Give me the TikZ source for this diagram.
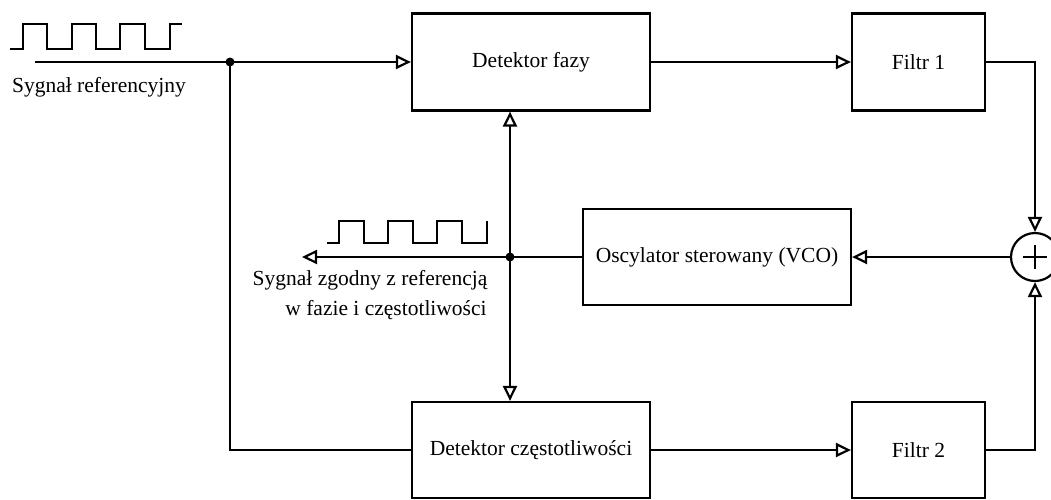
\documentclass[tikz,border=0pt]{standalone}
\usepackage{fontspec}
\setmainfont{Liberation Serif}
\usetikzlibrary{arrows.meta}
\begin{document}
\begin{tikzpicture}[x=1pt,y=-1pt, line width=2.2pt,
  blk/.style={draw, line width=2.2pt, inner sep=0pt, font=\fontsize{21.5}{25}\selectfont},
  lbl/.style={inner sep=0pt, font=\fontsize{21.5}{25}\selectfont},
  tip/.style={-{Triangle[open,length=15pt,width=14pt]}},
  jdot/.style={circle, fill, inner sep=0pt, minimum size=9pt},
  wave/.style={line width=2.2pt}]
\useasboundingbox (0,0) rectangle (1051,499);
% blocks
\node[blk, minimum width=238pt, minimum height=97pt] (df) at (531,62) {Detektor fazy};
\node[blk, minimum width=133pt, minimum height=97pt] (f1) at (918.5,62) {Filtr 1};
\node[blk, minimum width=268pt, minimum height=96pt] (vco) at (717,257) {Oscylator sterowany (VCO)};
\node[blk, minimum width=238pt, minimum height=96pt] (dc) at (531,450) {Detektor częstotliwości};
\node[blk, minimum width=133pt, minimum height=96pt] (f2) at (918.5,450) {Filtr 2};
\node[draw, circle, line width=2.2pt, minimum size=48pt, inner sep=0pt] (sum) at (1035,257) {};
\draw (sum.center) ++(-12,0) -- ++(24,0);
\draw (sum.center) ++(0,-12) -- ++(0,24);
% junctions
\coordinate (j1) at (230,62);
\coordinate (j2) at (510,257);
\coordinate (refstart) at (35,62);
\coordinate (outend) at (302,257);
% connectors
\draw[tip] (refstart) -- (df.west);
\draw (j1) |- (dc.west);
\draw[tip] (df.east) -- (f1.west);
\draw[tip] (dc.east) -- (f2.west);
\draw[tip] (f1.east) -| (sum.north);
\draw[tip] (f2.east) -| (sum.south);
\draw[tip] (sum.west) -- (vco.east);
\draw[tip] (vco.west) -- (outend);
\draw[tip] (j2) -- (j2 |- df.south);
\draw[tip] (j2) -- (j2 |- dc.north);
\node[jdot] (d1) at (j1) {};
\node[jdot] (d2) at (j2) {};
% waves
\draw[wave] (10,49) -- (23,49) -- (23,24) -- (47,24) -- (47,49) -- (72,49) -- (72,24) -- (96,24) -- (96,49) -- (120,49) -- (120,24) -- (145,24) -- (145,49) -- (170,49) -- (170,24) -- (182,24);
\draw[wave] (327,243) -- (339,243) -- (339,221) -- (364,221) -- (364,243) -- (388,243) -- (388,221) -- (413,221) -- (413,243) -- (437,243) -- (437,221) -- (462,221) -- (462,243) -- (487,243) -- (487,221);
% labels
\node[lbl, anchor=base west] (lref) at (11,92) {Sygnał referencyjny};
\node[lbl, anchor=base] (lout1) at (370,285) {Sygnał zgodny z referencją};
\node[lbl, anchor=base] (lout2) at (386,315) {w fazie i częstotliwości};
\end{tikzpicture}
\end{document}
